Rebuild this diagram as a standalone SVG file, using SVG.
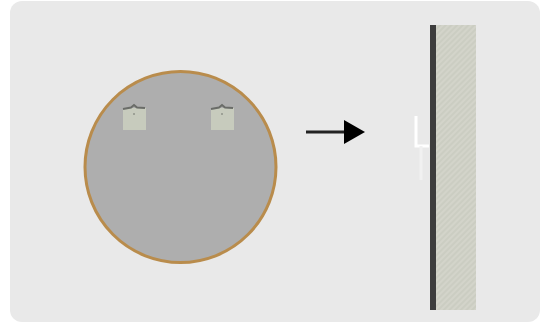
<svg xmlns="http://www.w3.org/2000/svg" width="540" height="326" viewBox="0 0 540 326">
<defs>
<style>
.clip{fill:#cfd4c2;opacity:.75}
.hook{fill:none;stroke:#6a6c68;stroke-width:2}
.pin{fill:#8f938a}
</style>
<pattern id="hatch" width="4" height="4" patternUnits="userSpaceOnUse" patternTransform="rotate(45)">
<rect width="4" height="4" fill="#d3d4ca"/>
<rect width="2" height="4" fill="#cbcdc2"/>
</pattern>
<marker id="arrow" markerUnits="userSpaceOnUse" markerWidth="21" markerHeight="24" refX="0" refY="12" orient="auto">
<path d="M0 0L21 12L0 24Z" fill="#000"/>
</marker>
</defs>
<rect width="540" height="326" fill="#fff"/>
<rect x="10" y="1" width="530" height="321" rx="12" fill="#e9e9e9"/>
<g id="mirror-front">
<circle cx="180.500" cy="167" r="95.500" fill="#aeaeae" stroke="#b98c4c" stroke-width="3"/>
<g id="clip-left">
<rect class="clip" x="123" y="108" width="23" height="22"/>
<path class="hook" d="M123 109L131 107.500L134 105L137 107.500L145 108"/>
<circle class="pin" cx="134" cy="114" r="1"/>
</g>
<g id="clip-right">
<rect class="clip" x="211" y="108" width="23" height="22"/>
<path class="hook" d="M211 109L219 107.500L222 105L225 107.500L233 108"/>
<circle class="pin" cx="222" cy="114" r="1"/>
</g>
</g>
<g id="connectors">
<line x1="306" y1="132" x2="344" y2="132" stroke="#222" stroke-width="3" marker-end="url(#arrow)"/>
</g>
<g id="mirror-side">
<rect x="436" y="25" width="40" height="285" fill="url(#hatch)"/>
<rect x="430" y="25" width="6" height="285" fill="#3d3d3d"/>
<path d="M416 116V146H429" fill="none" stroke="#fff" stroke-width="3"/>
<path d="M421 146V180" fill="none" stroke="#f1f1f1" stroke-width="3"/>
</g>
</svg>
